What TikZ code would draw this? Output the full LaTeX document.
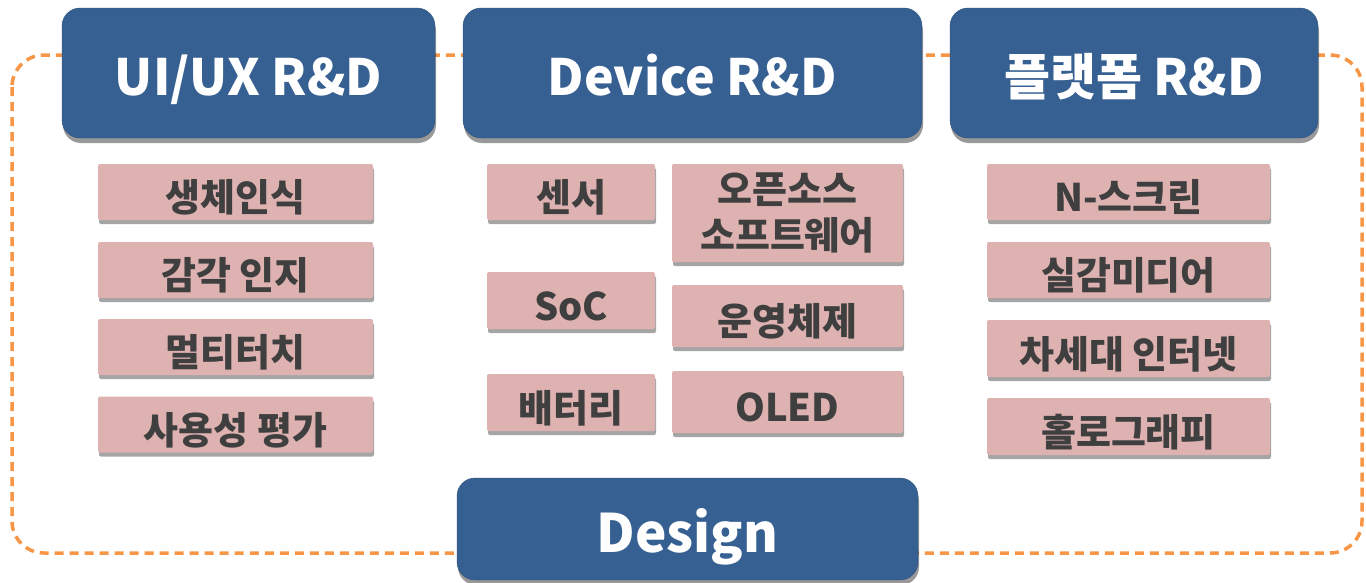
\documentclass[tikz,border=0pt]{standalone}
\usepackage{fontspec}
\usepackage{tikz}
\usetikzlibrary{shadows}
\newfontfamily\krfont{Noto Sans CJK KR}

\definecolor{hdblue}{HTML}{376092}
\definecolor{itempink}{HTML}{DFB2B2}
\definecolor{itemtext}{HTML}{3F3F3F}
\definecolor{frameorange}{HTML}{F79646}

\tikzset{
  header/.style={shape=rectangle, rounded corners=18pt, fill=hdblue, draw=hdblue!85!black,
    text=white, font=\krfont\bfseries\fontsize{50}{60}\selectfont,
    text height=45pt, text depth=0pt,
    drop shadow={shadow xshift=1pt, shadow yshift=-5pt, opacity=0.4, fill=black}},
  item/.style={shape=rectangle, rounded corners=2pt, fill=itempink, text=itemtext,
    font=\krfont\bfseries\fontsize{38}{46}\selectfont, align=center, inner sep=0pt,
    text height=39pt, text depth=0pt,
    drop shadow={shadow xshift=1pt, shadow yshift=-4pt, opacity=0.5, fill=black!70}},
  frame/.style={draw=frameorange, line width=3.5pt, dash pattern=on 9pt off 6pt, rounded corners=32pt}
}

\begin{document}
\begin{tikzpicture}[x=1pt, y=-1pt]

	\useasboundingbox (0, 0) rectangle (1366, 582);

	% dashed frame behind the headers
	\draw[frame] (12, 55) rectangle (1362, 553);

	\node[header, minimum width=373pt, minimum height=130pt] (uiux) at (248.5, 73)  {UI/UX R\&D};
	\node[header, minimum width=459pt, minimum height=130pt] (device) at (692.5, 73) {Device R\&D};
	\node[header, minimum width=368pt, minimum height=130pt] (platform) at (1134, 73) {플랫폼 R\&D};
	\node[header, minimum width=461pt, minimum height=102pt, text height=47pt,
	      font=\krfont\bfseries\fontsize{53}{60}\selectfont] (design) at (687.5, 529) {Design};

	\node[item, minimum width=275pt, minimum height=56pt] (bio) at (235.5, 192)   {생체인식};
	\node[item, minimum width=275pt, minimum height=56pt] (sense) at (235.5, 270) {감각 인지};
	\node[item, minimum width=275pt, minimum height=56pt] (touch) at (235.5, 347) {멀티터치};
	\node[item, minimum width=275pt, minimum height=56pt] (usab) at (235.5, 424.5) {사용성 평가};

	\node[item, minimum width=168pt, minimum height=56pt] (sensor) at (571, 192)    {센서};
	\node[item, minimum width=168pt, minimum height=57pt] (soc) at (571, 300.5)     {SoC};
	\node[item, minimum width=168pt, minimum height=57pt] (battery) at (571, 402.5) {배터리};
	\node[item, minimum width=231pt, minimum height=98pt, text height=, text depth=] (oss) at (787.5, 213) {오픈소스\\소프트웨어};
	\node[item, minimum width=231pt, minimum height=62pt] (os) at (787.5, 316)      {운영체제};
	\node[item, minimum width=231pt, minimum height=62pt] (oled) at (787.5, 402)    {OLED};

	\node[item, minimum width=283pt, minimum height=56pt] (nscreen) at (1128.5, 192) {N-스크린};
	\node[item, minimum width=283pt, minimum height=56pt] (media) at (1128.5, 270)   {실감미디어};
	\node[item, minimum width=283pt, minimum height=57pt] (inet) at (1128.5, 348.5)  {차세대 인터넷};
	\node[item, minimum width=283pt, minimum height=57pt] (holo) at (1128.5, 426.5)  {홀로그래피};

\end{tikzpicture}
\end{document}
